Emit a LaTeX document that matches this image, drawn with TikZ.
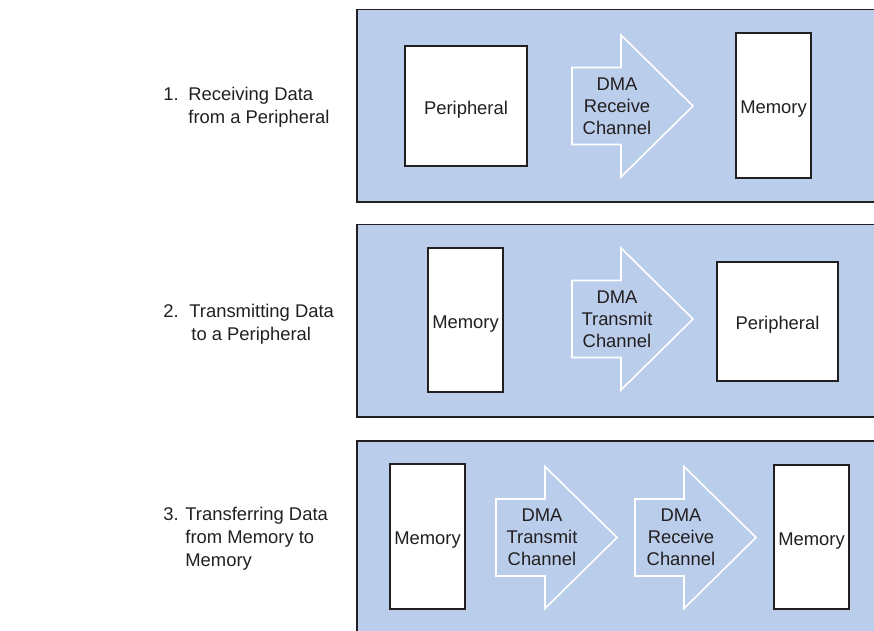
\documentclass[tikz,border=0pt]{standalone}
\usepackage{fontspec}
\setmainfont{Liberation Sans}
\usepackage{xcolor}
\usepackage{tikz}
\usetikzlibrary{positioning}

\definecolor{panelblue}{RGB}{186,205,235}
\definecolor{inkgray}{RGB}{35,31,32}

\begin{document}
\begin{tikzpicture}[x=0.5pt,y=-0.5pt,
  font=\fontsize{9.2}{11}\selectfont, text=inkgray,
  panel/.style={draw=inkgray,line width=0.65pt,fill=panelblue},
  unitbox/.style={draw=inkgray,line width=0.55pt,fill=white,inner sep=0pt,text height=8.4pt,text depth=0pt},
  chan/.style={draw=white,line width=0.8pt,fill=panelblue,line join=miter},
  chanlabel/.style={align=center,inner sep=0pt},
  caption/.style={align=left,anchor=west,inner sep=0pt,font=\fontsize{9.2}{11.4}\selectfont}]
\def\chanarrow{++(0,-38.5) -- ++(49,0) -- ++(0,-32.5) -- ++(72,71) -- ++(-72,71) -- ++(0,-32.5) -- ++(-49,0) -- cycle}
      \clip (0,0) rectangle (874,631);
      % the three panels
      \draw[panel] (357,9.5) rectangle (890,202);
      \draw[panel] (357,224.5) rectangle (890,417);
      \draw[panel] (357,441) rectangle (890,650);
      % 1. receive
      \node[caption] (cap1) at (163,107) {\makebox[12.5pt][l]{1.}Receiving Data\\\hspace*{12.5pt}from a Peripheral};
      \node[unitbox,minimum width=61pt,minimum height=60pt] (peri1) at (466,106) {Peripheral};
      \draw[chan] (572,106) \chanarrow;
      \node[chanlabel] (rx1) at (617,106) {DMA\\Receive\\Channel};
      \node[unitbox,minimum width=37.5pt,minimum height=72.5pt] (mem1) at (773.5,105.5) {Memory};
      % 2. transmit
      \node[caption] (cap2) at (163,324.5) {\makebox[13pt][l]{2.}Transmitting Data\\\hspace*{14pt}to a Peripheral};
      \node[unitbox,minimum width=37.5pt,minimum height=72pt] (mem2) at (465.5,320) {Memory};
      \draw[chan] (572,319) \chanarrow;
      \node[chanlabel] (tx2) at (617,319) {DMA\\Transmit\\Channel};
      \node[unitbox,minimum width=60.5pt,minimum height=59.5pt] (peri2) at (777.5,321.5) {Peripheral};
      % 3. memory to memory
      \node[caption] (cap3) at (163,539) {\makebox[11pt][l]{3.}Transferring Data\\\hspace*{11pt}from Memory to\\\hspace*{11pt}Memory};
      \node[unitbox,minimum width=37.5pt,minimum height=72.5pt] (mem3a) at (427.5,536.5) {Memory};
      \draw[chan] (496,537.5) \chanarrow;
      \node[chanlabel] (tx3) at (542,537.5) {DMA\\Transmit\\Channel};
      \draw[chan] (635,537.5) \chanarrow;
      \node[chanlabel] (rx3) at (681,537.5) {DMA\\Receive\\Channel};
      \node[unitbox,minimum width=37.5pt,minimum height=72pt] (mem3b) at (811.5,537) {Memory};
\end{tikzpicture}
\end{document}
